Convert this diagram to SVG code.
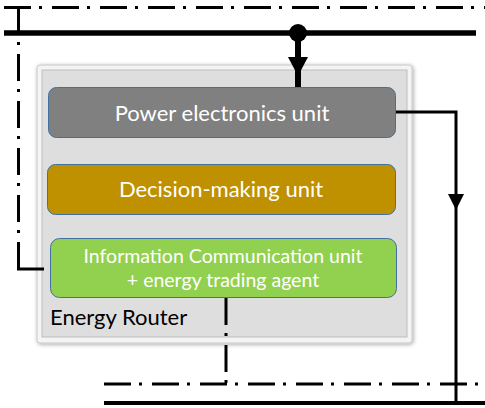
<svg xmlns="http://www.w3.org/2000/svg" width="485" height="408" viewBox="0 0 485 408">
<defs>
<style>
.dd{fill:none;stroke:#000;stroke-width:3;stroke-dasharray:27 8 3 10}
.ddv{fill:none;stroke:#000;stroke-width:3;stroke-dasharray:27 8 3 9}
.bus{fill:none;stroke:#000}
.con{fill:none;stroke:#000;stroke-width:3}
.unit{stroke:#41719c;stroke-width:1}
.lbl{font-family:Lato,"Open Sans",sans-serif;fill:#fff;text-anchor:middle}
</style>
<filter id="sh" x="-5%" y="-5%" width="110%" height="110%">
<feGaussianBlur in="SourceAlpha" stdDeviation="2"/>
<feOffset dx="1" dy="1"/>
<feComponentTransfer><feFuncA type="linear" slope="0.35"/></feComponentTransfer>
<feMerge><feMergeNode/><feMergeNode in="SourceGraphic"/></feMerge>
</filter>
</defs>
<g id="router">
<rect x="37" y="65" width="375" height="278" rx="3" fill="#f4f4f4" stroke="#c8c8c8" stroke-width="1" filter="url(#sh)"/>
<rect x="42" y="70" width="365" height="267" fill="#dedede" stroke="#bdbdbd" stroke-width="1"/>
<text x="50" y="325" font-family="Lato,'Open Sans',sans-serif" font-size="22" fill="#000">Energy Router</text>
</g>
<g id="connectors">
<path class="dd" d="M4 7.5H485"/>
<path class="ddv" d="M18.5 7V269"/>
<path class="con" d="M17 269H44"/>
<path class="ddv" d="M226 298V384"/>
<path class="dd" d="M104 384H485"/>
<path class="bus" stroke-width="5.5" d="M4 33H476"/>
<path class="bus" stroke-width="4" d="M104 403H485"/>
<circle cx="298" cy="33" r="9"/>
<path class="bus" stroke-width="6" d="M298 33V87"/>
<polygon points="288,57 308,57 298,76"/>
<path class="con" d="M395 112H456V403"/>
<polygon points="448,194 464,194 456,210"/>
</g>
<g id="power">
<rect class="unit" x="48.5" y="87.5" width="347" height="50" rx="8" fill="#808080"/>
<text class="lbl" x="222" y="121" font-size="22">Power electronics unit</text>
</g>
<g id="decision">
<rect class="unit" x="47.5" y="164.5" width="348" height="50" rx="8" fill="#bf9000"/>
<text class="lbl" x="221" y="197" font-size="22">Decision-making unit</text>
</g>
<g id="info">
<rect class="unit" x="50.5" y="238.5" width="346" height="59" rx="9" fill="#92d050"/>
<text class="lbl" x="223" y="262.5" font-size="19.5">Information Communication unit</text>
<text class="lbl" x="223" y="287" font-size="19.5">+ energy trading agent</text>
</g>
</svg>
